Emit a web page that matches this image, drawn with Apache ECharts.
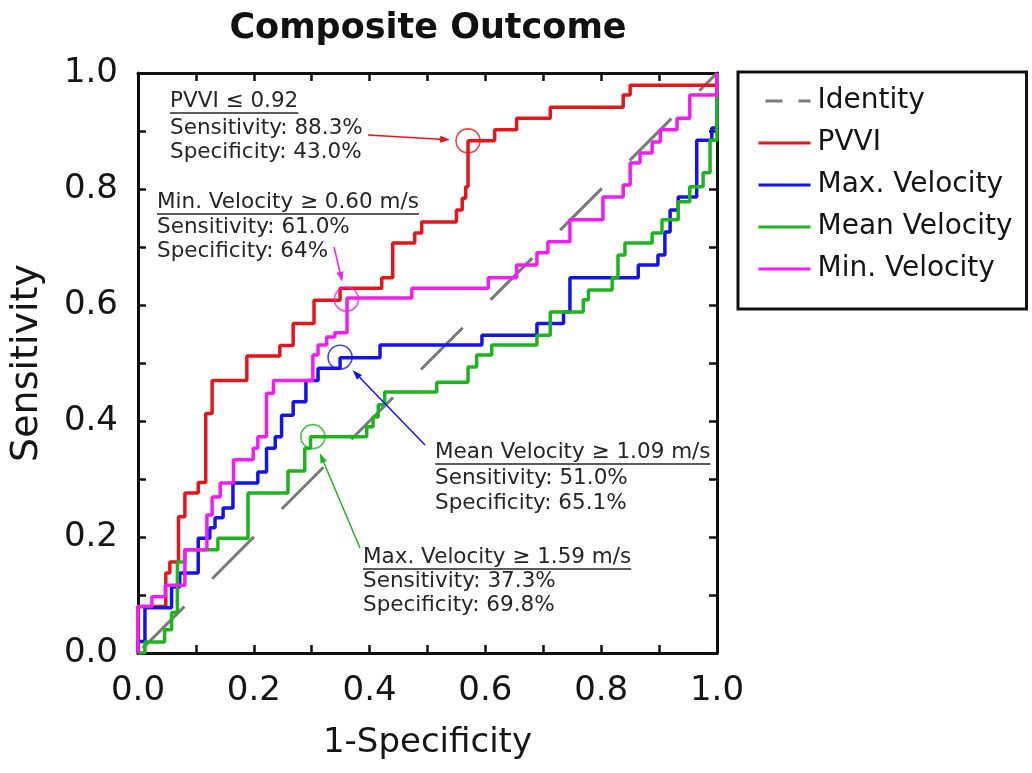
<!DOCTYPE html>
<html><head><meta charset="utf-8">
<script src="https://cdn.jsdelivr.net/npm/echarts@6/dist/echarts.min.js"></script>
<style>html,body{margin:0;padding:0;background:#fff}#c{width:1032px;height:773px}</style>
</head><body><div id="c"></div>
<script>
// ---------- data ----------
const seriesNames = ['Identity', 'PVVI', 'Max. Velocity', 'Mean Velocity', 'Min. Velocity'];
const tickLabels = ['0.0', '', '0.2', '', '0.4', '', '0.6', '', '0.8', '', '1.0'];

const identityFpr = [0, 1];
const identityTpr = [0, 1];

const pvviFpr = [0, 0, 0.048, 0.055, 0.07, 0.081, 0.104, 0.117, 0.128, 0.188, 0.245, 0.268, 0.304, 0.349, 0.421, 0.44, 0.478, 0.49, 0.55, 0.56, 0.566, 0.57, 0.616, 0.654, 0.712, 0.838, 0.85, 1];
const pvviTpr = [0, 0.08, 0.138, 0.157, 0.235, 0.276, 0.294, 0.413, 0.47, 0.512, 0.53, 0.568, 0.608, 0.629, 0.647, 0.707, 0.724, 0.743, 0.764, 0.784, 0.804, 0.883, 0.902, 0.922, 0.941, 0.962, 0.979, 1];

const maxVelFpr = [0, 0, 0.012, 0.058, 0.072, 0.104, 0.124, 0.133, 0.147, 0.164, 0.207, 0.222, 0.237, 0.248, 0.268, 0.29, 0.311, 0.349, 0.418, 0.594, 0.689, 0.735, 0.746, 0.864, 0.898, 0.91, 0.919, 0.933, 0.965, 0.991, 1];
const maxVelTpr = [0, 0.02, 0.078, 0.114, 0.138, 0.198, 0.216, 0.233, 0.25, 0.293, 0.312, 0.353, 0.373, 0.41, 0.433, 0.47, 0.491, 0.509, 0.531, 0.548, 0.568, 0.588, 0.647, 0.669, 0.686, 0.726, 0.764, 0.786, 0.884, 0.905, 1];

const meanVelFpr = [0, 0.012, 0.046, 0.058, 0.068, 0.081, 0.138, 0.19, 0.259, 0.288, 0.298, 0.395, 0.406, 0.415, 0.426, 0.516, 0.57, 0.585, 0.611, 0.689, 0.712, 0.769, 0.778, 0.819, 0.829, 0.841, 0.888, 0.905, 0.933, 0.953, 0.976, 0.988, 1];
const meanVelTpr = [0, 0.019, 0.04, 0.07, 0.157, 0.178, 0.198, 0.276, 0.314, 0.353, 0.373, 0.39, 0.407, 0.428, 0.45, 0.467, 0.493, 0.514, 0.531, 0.548, 0.588, 0.609, 0.626, 0.647, 0.686, 0.707, 0.724, 0.747, 0.778, 0.804, 0.828, 0.884, 1];

const minVelFpr = [0, 0, 0.024, 0.047, 0.081, 0.119, 0.128, 0.142, 0.165, 0.199, 0.207, 0.222, 0.234, 0.302, 0.311, 0.326, 0.34, 0.361, 0.473, 0.605, 0.654, 0.689, 0.708, 0.746, 0.803, 0.838, 0.85, 0.867, 0.888, 0.902, 0.931, 0.953, 1];
const minVelTpr = [0, 0.08, 0.097, 0.117, 0.178, 0.238, 0.269, 0.293, 0.333, 0.353, 0.373, 0.448, 0.47, 0.514, 0.531, 0.545, 0.552, 0.612, 0.629, 0.647, 0.669, 0.69, 0.709, 0.747, 0.786, 0.807, 0.845, 0.862, 0.881, 0.902, 0.922, 0.962, 1];

// cut-off points [1-specificity, sensitivity]
const cutPvvi = [0.57, 0.883];
const cutMinVel = [0.36, 0.61];
const cutBlue = [0.349, 0.51];
const cutGreen = [0.302, 0.373];

const notePvvi = ['PVVI ≤ 0.92', 'Sensitivity: 88.3%', 'Specificity: 43.0%'];
const noteMinVel = ['Min. Velocity ≥ 0.60 m/s', 'Sensitivity: 61.0%', 'Specificity: 64%'];
const noteMeanVel = ['Mean Velocity ≥ 1.09 m/s', 'Sensitivity: 51.0%', 'Specificity: 65.1%'];
const noteMaxVel = ['Max. Velocity ≥ 1.59 m/s', 'Sensitivity: 37.3%', 'Specificity: 69.8%'];

// ---------- style ----------
const C = { id: '#7a7a7a', red: '#e5161b', blue: '#1414e6', green: '#1eb41e', mag: '#f01ef0' };
const FONT = '"DejaVu Sans", sans-serif';
const zip = (a, b) => a.map((v, i) => [v, b[i]]);

const G = { left: 138, top: 73, right: 315, bottom: 120 };

function mkLine(name, fpr, tpr, color, extra) {
  return Object.assign({
    name, type: 'line', data: zip(fpr, tpr), step: 'end', symbol: 'none', showSymbol: false,
    lineStyle: { color, width: 3.5 }, itemStyle: { color }, animation: false, z: 3
  }, extra || {});
}
function mkCircle(pt, color) {
  return { type: 'scatter', data: [pt], symbol: 'circle', symbolSize: 24, silent: true, z: 5,
    itemStyle: { color: 'rgba(0,0,0,0)', borderColor: color, borderWidth: 1.6 }, animation: false };
}

const axisCommon = {
  type: 'value', min: 0, max: 1, interval: 0.1,
  axisLine: { show: true, onZero: false, lineStyle: { color: '#111', width: 3 } },
  axisTick: { show: true, inside: true, length: 8, lineStyle: { color: '#111', width: 2.5 } },
  splitLine: { show: false }
};
const labelStyle = { fontSize: 34, fontFamily: FONT, color: '#151515', formatter: v => tickLabels[Math.round(v * 10)] };

const option = {
  backgroundColor: '#fff',
  animation: false,
  grid: G,
  legend: {
    data: [
      { name: 'Identity', lineStyle: { type: [17, 16], width: 3, color: C.id } },
      'PVVI', 'Max. Velocity', 'Mean Velocity', 'Min. Velocity'
    ],
    orient: 'vertical', left: 738, top: 72,
    padding: [15, 14, 26, 19],
    itemWidth: 52, itemHeight: 30, itemGap: 14,
    itemStyle: { opacity: 0 },
    lineStyle: { width: 3 },
    borderColor: '#111', borderWidth: 3,
    textStyle: { fontSize: 28, fontFamily: FONT, color: '#151515', padding: [0, 0, 0, 2] },
    selectedMode: false
  },
  xAxis: [
    Object.assign({}, axisCommon, { position: 'bottom', axisLabel: Object.assign({ margin: 21 }, labelStyle),
      name: '1-Specificity', nameLocation: 'middle', nameGap: 73,
      nameTextStyle: { fontSize: 34, fontFamily: FONT, color: '#151515' } }),
    Object.assign({}, axisCommon, { position: 'top', axisLabel: { show: false } })
  ],
  yAxis: [
    Object.assign({}, axisCommon, { position: 'left', axisLabel: Object.assign({ margin: 20 }, labelStyle),
      name: 'Sensitivity', nameLocation: 'middle', nameGap: 92,
      nameTextStyle: { fontSize: 38, fontFamily: FONT, color: '#151515' } }),
    Object.assign({}, axisCommon, { position: 'right', axisLabel: { show: false } })
  ],
  series: [
    { name: 'Identity', type: 'line', data: zip(identityFpr, identityTpr), symbol: 'none', showSymbol: false,
      lineStyle: { color: C.id, width: 3, type: [59, 39.5], dashOffset: 92 }, itemStyle: { color: C.id }, z: 2 },
    mkLine('PVVI', pvviFpr, pvviTpr, C.red),
    mkLine('Max. Velocity', maxVelFpr, maxVelTpr, C.blue),
    mkLine('Mean Velocity', meanVelFpr, meanVelTpr, C.green),
    mkLine('Min. Velocity', minVelFpr, minVelTpr, C.mag),
    mkCircle(cutPvvi, C.red), mkCircle(cutMinVel, C.mag), mkCircle(cutBlue, C.blue), mkCircle(cutGreen, C.green)
  ]
};

const chart = echarts.init(document.getElementById('c'), null, { renderer: 'canvas' });
chart.setOption(option);

// ---------- annotations (layout in pixels, targets from data) ----------
const mctx = document.createElement('canvas').getContext('2d');
const NOTE_FONT = '21.5px "DejaVu Sans"';
mctx.font = NOTE_FONT;
const TXT = '#262626';
const notes = [
  { lines: notePvvi, x: 170, ys: [101.5, 128.5, 152], color: C.red, from: [368, 135], target: cutPvvi },
  { lines: noteMinVel, x: 157, ys: [202.5, 227, 251.5], color: C.mag, from: [334, 247], target: cutMinVel },
  { lines: noteMeanVel, x: 435, ys: [452.5, 478.5, 503.5], color: C.blue, from: [425, 445], target: cutBlue },
  { lines: noteMaxVel, x: 363, ys: [557.5, 581, 605], color: C.green, from: [360, 548], target: cutGreen }
];
const graphics = [];
graphics.push({ type: 'text', x: 428, y: 29, style: { text: 'Composite Outcome', font: 'bold 35px "DejaVu Sans"', fill: '#111', align: 'center', verticalAlign: 'middle' } });
notes.forEach(n => {
  n.lines.forEach((t, i) => {
    graphics.push({ type: 'text', x: n.x, y: n.ys[i], z: 10, style: { text: t, font: NOTE_FONT, fill: TXT, align: 'left', verticalAlign: 'middle' } });
  });
  const w = mctx.measureText(n.lines[0]).width;
  const uy = n.ys[0] + 11.5;
  graphics.push({ type: 'line', z: 10, shape: { x1: n.x, y1: uy, x2: n.x + w, y2: uy }, style: { stroke: TXT, lineWidth: 1.6 } });
  const c = chart.convertToPixel({ gridIndex: 0 }, n.target);
  const dx = c[0] - n.from[0], dy = c[1] - n.from[1];
  const L = Math.hypot(dx, dy), ux = dx / L, uy2 = dy / L;
  const tip = [c[0] - ux * 18, c[1] - uy2 * 18];
  const base = [tip[0] - ux * 10, tip[1] - uy2 * 10];
  graphics.push({ type: 'line', z: 10, shape: { x1: n.from[0], y1: n.from[1], x2: base[0], y2: base[1] }, style: { stroke: n.color, lineWidth: 1.5 } });
  graphics.push({ type: 'polygon', z: 10, shape: { points: [tip, [base[0] - uy2 * 3.5, base[1] + ux * 3.5], [base[0] + uy2 * 3.5, base[1] - ux * 3.5]] }, style: { fill: n.color } });
});
chart.setOption({ graphic: graphics });
</script>
</body></html>
